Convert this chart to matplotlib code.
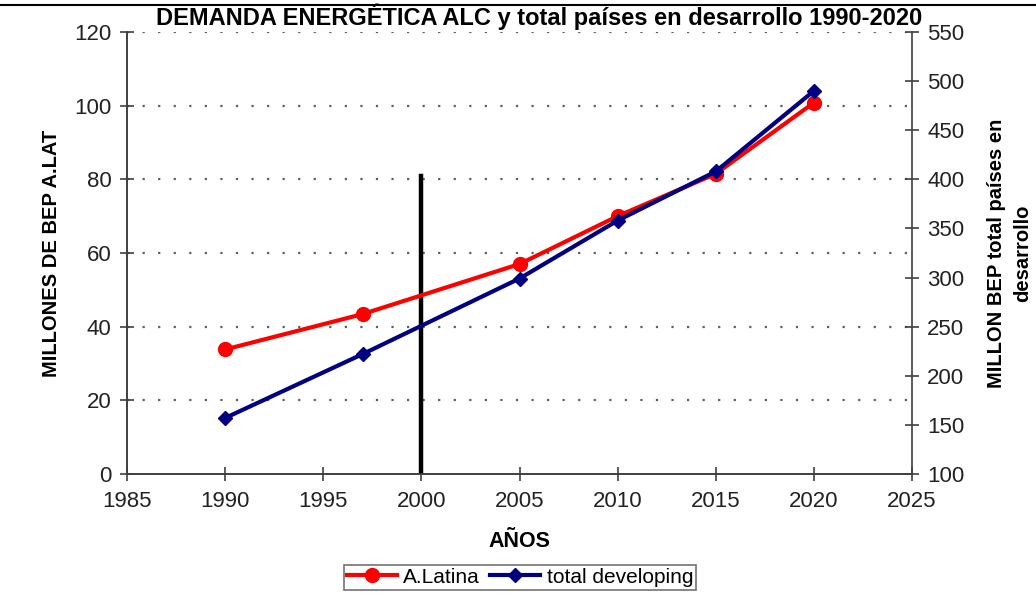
import matplotlib
matplotlib.use("Agg")
import matplotlib.pyplot as plt
from matplotlib.lines import Line2D

# data
years = [1990, 1997, 2005, 2010, 2015, 2020]
alatina = [33.8, 43.4, 57.0, 70.0, 81.5, 100.8]          # left axis, millones BEP
developing = [157, 222, 299, 358, 408, 490]               # right axis, millon BEP
marker_year = 2000
marker_top = 81

plt.rcParams['font.family'] = ['Liberation Sans', 'DejaVu Sans']

fig = plt.figure(figsize=(10.36, 5.98), dpi=100)
ax = fig.add_axes([0.1226, 0.2074, 0.7577, 0.7391])
ax2 = ax.twinx()

ax.set_xlim(1985, 2025)
ax.set_ylim(0, 120)
ax2.set_ylim(100, 550)
ax.set_xticks(range(1985, 2026, 5))
ax.set_yticks(range(0, 121, 20))
ax2.set_yticks(range(100, 551, 50))

for y in range(20, 121, 20):
    ax.axhline(y, color='#606060', lw=1.6, ls=(0, (1, 6)), zorder=0)

ax.plot([marker_year, marker_year], [0, marker_top], color='black', lw=3.2, zorder=3)

l1, = ax.plot(years, alatina, color='#ff0000', lw=3, marker='o', ms=10, zorder=4)
l2, = ax2.plot(years, developing, color='#000080', lw=3, marker='D', ms=7.5, zorder=4)

for a in (ax, ax2):
    a.spines['top'].set_visible(False)
    for s in ('left', 'right', 'bottom'):
        a.spines[s].set_color('#404040')
        a.spines[s].set_linewidth(1.2)
    a.tick_params(direction='inout', length=10, width=1.2, color='#404040',
                  labelsize=16, labelcolor='#222222')
ax.tick_params(axis='y', pad=6)
ax2.tick_params(axis='y', pad=6)
ax.tick_params(axis='x', pad=7)
ax.spines['right'].set_visible(False)

ax.set_ylabel('MILLONES DE BEP A.LAT', fontsize=14.5, fontweight='bold', labelpad=10)
ax2.set_ylabel('MILLON BEP total países en\ndesarrollo', fontsize=14.5,
               fontweight='bold', labelpad=16, linespacing=1.5)
ax.set_xlabel('AÑOS', fontsize=15.5, fontweight='bold', labelpad=14)
fig.text(0.52, 0.972, 'DEMANDA ENERGÉTICA ALC y total países en desarrollo 1990-2020',
         ha='center', va='center', fontsize=17, fontweight='bold')

# cropped page rule at the very top
fig.add_artist(Line2D([0.0, 1.0], [0.992, 0.992], color='black', lw=1.5))

leg = fig.legend([l1, l2], ['A.Latina', 'total developing'], loc='upper center',
                 bbox_to_anchor=(0.502, 0.056), borderaxespad=0, ncol=2,
                 fontsize=15, frameon=True, fancybox=False, edgecolor='#505050',
                 handlelength=2.4, columnspacing=0.5, handletextpad=0.3,
                 borderpad=0.15)
leg.get_frame().set_linewidth(1.2)

fig.savefig('out.png', dpi=100)
